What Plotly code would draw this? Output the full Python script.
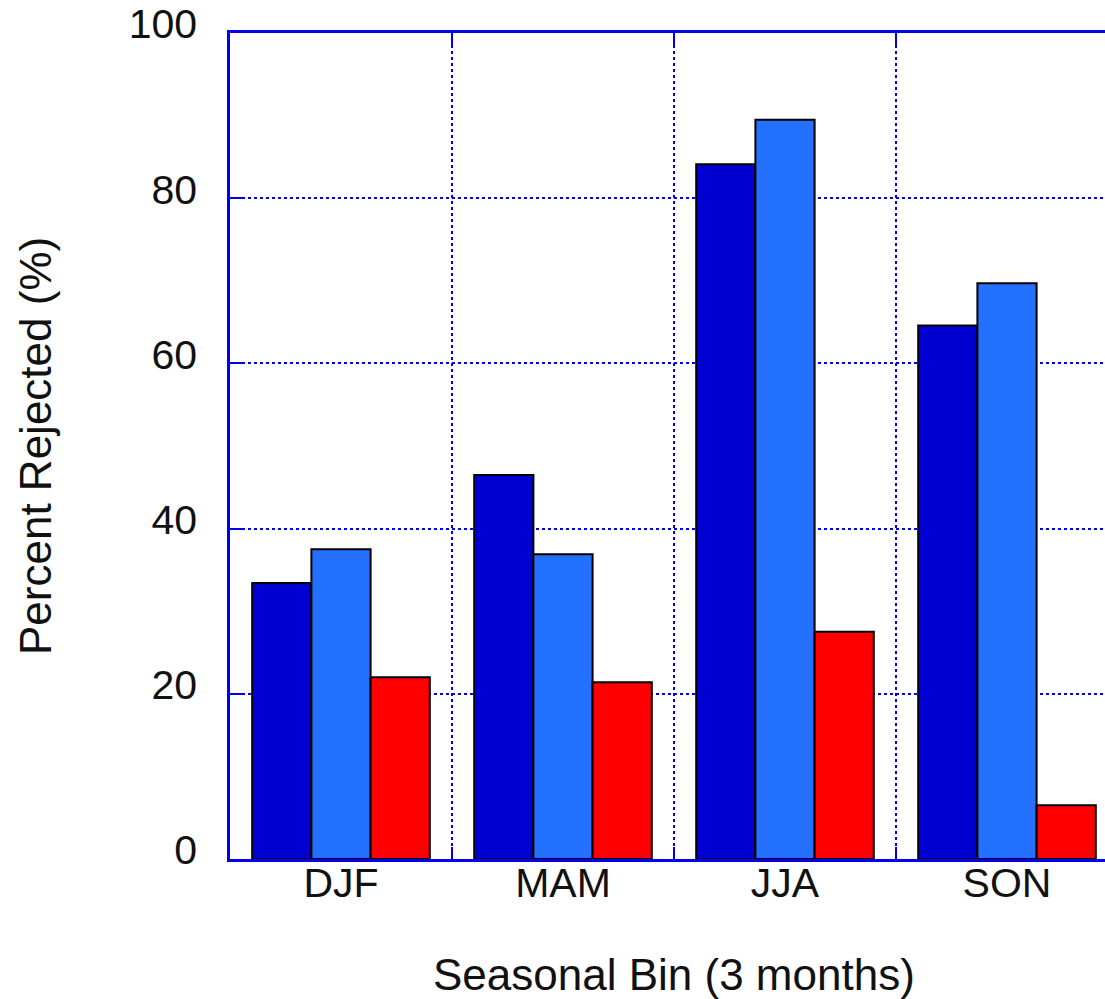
import plotly.graph_objects as go

# Seasonal bins and percent of observations rejected for each of three series
seasons = ["DJF", "MAM", "JJA", "SON"]
series_a = [33.4, 46.5, 84.1, 64.6]
series_b = [37.5, 36.9, 89.5, 69.7]
series_c = [22.0, 21.4, 27.5, 6.5]
y_ticks = [0, 20, 40, 60, 80, 100]

colors = ["#0000d2", "#2470ff", "#ff0000"]
names = ["Series A", "Series B", "Series C"]
FONT = "Liberation Sans, Arial, Helvetica, sans-serif"
AXIS_BLUE = "#0000ee"

positions = list(range(len(seasons)))

fig = go.Figure()
for vals, col, nm in zip([series_a, series_b, series_c], colors, names):
    fig.add_trace(go.Bar(
        x=positions, y=vals, name=nm,
        marker=dict(color=col, line=dict(color="black", width=2)),
        showlegend=False,
    ))

fig.update_layout(
    width=1105, height=999,
    margin=dict(l=230, r=0, t=33, b=140),
    paper_bgcolor="white", plot_bgcolor="white",
    barmode="group", bargap=0.2, bargroupgap=0,
    font=dict(family=FONT, size=42, color="#111111"),
)

fig.update_xaxes(
    range=[-0.5, 3.5 - 13 / 222],
    tickmode="array", tickvals=positions, ticktext=seasons,
    ticks="", showgrid=False, zeroline=False,
    ticklabelstandoff=-14,
    tickfont=dict(family=FONT, size=41, color="#111111"),
    showline=True, linecolor=AXIS_BLUE, linewidth=2.5, mirror="allticks",
    minor=dict(
        tickmode="array", tickvals=[0.5, 1.5, 2.5],
        ticks="inside", ticklen=12, tickwidth=2, tickcolor=AXIS_BLUE,
        showgrid=True, gridcolor=AXIS_BLUE, griddash="dot", gridwidth=2,
    ),
)

fig.update_yaxes(
    range=[0, 100],
    tickmode="array", tickvals=y_ticks,
    ticks="inside", ticklen=14, tickwidth=2, tickcolor=AXIS_BLUE,
    ticklabelstandoff=22, ticklabelshift=-9,
    tickfont=dict(family=FONT, size=41, color="#111111"),
    showgrid=True, gridcolor=AXIS_BLUE, griddash="dot", gridwidth=2,
    zeroline=False,
    showline=True, linecolor=AXIS_BLUE, linewidth=2.5, mirror=False,
)

# Axis titles
fig.add_annotation(
    text="Seasonal Bin (3 months)", xref="x", yref="paper",
    x=1.5, y=0, yshift=-115, xanchor="center", yanchor="middle",
    showarrow=False, font=dict(family=FONT, size=44, color="#111111"),
)
fig.add_annotation(
    text="Percent Rejected (%)", xref="paper", yref="paper",
    x=0, y=0.5, xshift=-195, xanchor="center", yanchor="middle",
    textangle=-90, showarrow=False,
    font=dict(family=FONT, size=44, color="#111111"),
)

fig.write_html("out.html")
